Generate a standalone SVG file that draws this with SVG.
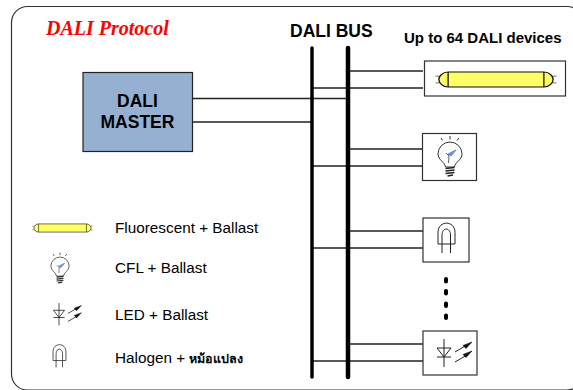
<svg xmlns="http://www.w3.org/2000/svg" xmlns:xlink="http://www.w3.org/1999/xlink" width="573" height="390" viewBox="0 0 573 390">
<style>
.s{font-family:"Liberation Sans",Arial,sans-serif;fill:#000}
.b{font-weight:bold}
.w{stroke:#222;stroke-width:1.4;fill:none}
.bus{stroke:#000;stroke-linecap:round;fill:none}
.box{fill:#fff;stroke:#333;stroke-width:1.2}
.ic{fill:none;stroke:#222;stroke-width:1}
</style>
<defs>
<g id="tube">
<path d="M-72 -5.500H-64M-72 5.500H-64M64 -5.500H72M64 5.500H72" stroke="#444" stroke-width="1.300" fill="none"/>
<path d="M-57 -12H57C64 -12 68 -5 68 0C68 5 64 12 57 12H-57C-64 12 -68 5 -68 0C-68 -5 -64 -12 -57 -12Z" fill="#ffff66" stroke="#111" stroke-width="1.600"/>
<path d="M-57 -12V12M57 -12V12" stroke="#111" stroke-width="1.500"/>
</g>
<g id="bulb">
<path d="M-9 -21L-7.500 -18.500M0 -23V-19.500M9 -21L7 -18.500" stroke="#333" stroke-width="1" fill="none"/>
<path d="M-4.500 8C-5 3 -12 1 -12 -5A12 12 0 0 1 12 -5C12 1 5 3 4.500 8Z" fill="#fff" stroke="#333" stroke-width="1"/>
<path d="M-4.500 9.500L4.500 8.500M-4.500 12L4.500 11M-4.500 14.500L4.500 13.500M-2.500 17L3 16" stroke="#222" stroke-width="1.600" fill="none"/>
<path d="M-2 -5L6 -9L1 -3Z" fill="#6f97d8" stroke="#4a78c0" stroke-width="0.800"/>
<path d="M-1.500 4L-1 -3M-1 -3L-4 -6" stroke="#333" stroke-width="0.800" fill="none"/>
</g>
<g id="halo">
<path d="M-8.500 6V-5.500C-8.500 -18 8.500 -18 8.500 -5.500V6Z" class="ic"/>
<path d="M-4.500 15V-3C-4.500 -11 4 -11 4 -3V15" class="ic"/>
</g>
<g id="led">
<path d="M0 -13V15M-7 -4H7L0 5ZM-7 5H7" class="ic"/>
<path d="M11 0L23 -7M11 10L23 3" class="ic" stroke-width="1.100"/>
<path d="M28 -10L19 -6.500L22 -3.500ZM28 -1L19 2.500L22 5.500Z" fill="#111" stroke="#111" stroke-width="0.600"/>
</g>
</defs>

<rect id="frame" x="11.500" y="6.500" width="571.500" height="383.500" rx="16" ry="16" fill="#fff" stroke="#333" stroke-width="1.200"/>

<text class="b" x="46" y="35" style="font-family:'Liberation Serif',serif;font-style:italic;font-size:20px;fill:#ff0000">DALI Protocol</text>
<text class="s b" x="290" y="37" font-size="17.500">DALI BUS</text>
<text class="s b" x="404" y="43" font-size="15">Up to 64 DALI devices</text>

<g id="connectors">
<path class="w" d="M192 98.500H348M192 122H312"/>
<path class="w" d="M348 71H423M312 88H423"/>
<path class="w" d="M348 149H422M312 166H422"/>
<path class="w" d="M348 231H423M312 248H423"/>
<path class="w" d="M348 344H423M312 361H423"/>
<path class="bus" style="stroke-width:3.500" d="M312 48V377"/>
<path class="bus" style="stroke-width:4.500" d="M348 48V377"/>
</g>

<g id="master">
<rect x="83" y="72.500" width="109.500" height="79" fill="#95b0d1" stroke="#222" stroke-width="1.200"/>
<text class="s b" x="137.500" y="107" font-size="17.500" text-anchor="middle">DALI</text>
<text class="s b" x="137.500" y="128" font-size="17.500" text-anchor="middle">MASTER</text>
</g>

<g id="device-fluorescent">
<rect class="box" x="424.500" y="61" width="141" height="35"/>
<use xlink:href="#tube" href="#tube" transform="translate(496,79.500) scale(0.84,0.62)"/>
</g>
<g id="device-cfl">
<rect class="box" x="422.500" y="133.500" width="54" height="47"/>
<use xlink:href="#bulb" href="#bulb" transform="translate(450,159)"/>
</g>
<g id="device-halogen">
<rect class="box" x="423" y="218" width="46" height="44"/>
<use xlink:href="#halo" href="#halo" transform="translate(446.500,238)"/>
</g>
<g id="dots">
<path d="M446 279V281.500M446 291V293.500M446 303.500V306M446 315.500V318" stroke="#000" stroke-width="4" stroke-linecap="round" fill="none"/>
</g>
<g id="device-led">
<rect class="box" x="423" y="331" width="54" height="44"/>
<use xlink:href="#led" href="#led" transform="translate(444,352)"/>
</g>

<g id="legend-fluorescent">
<use xlink:href="#tube" href="#tube" transform="translate(62.500,228) scale(0.42,0.34)"/>
<text class="s" x="115" y="233" font-size="15.300">Fluorescent + Ballast</text>
</g>
<g id="legend-cfl">
<use xlink:href="#bulb" href="#bulb" transform="translate(60,270) scale(0.76)"/>
<text class="s" x="115" y="273" font-size="15.300">CFL + Ballast</text>
</g>
<g id="legend-led">
<use xlink:href="#led" href="#led" transform="translate(59,313.500) scale(0.8)"/>
<text class="s" x="115" y="320" font-size="15.300">LED + Ballast</text>
</g>
<g id="legend-halogen">
<use xlink:href="#halo" href="#halo" transform="translate(59.500,356) scale(0.76)"/>
<text class="s" x="115" y="363" font-size="15.300" style="font-family:'Liberation Sans','Noto Sans','DejaVu Sans',sans-serif">Halogen + <tspan font-size="12.500" font-weight="bold">หม้อแปลง</tspan></text>
</g>
</svg>
